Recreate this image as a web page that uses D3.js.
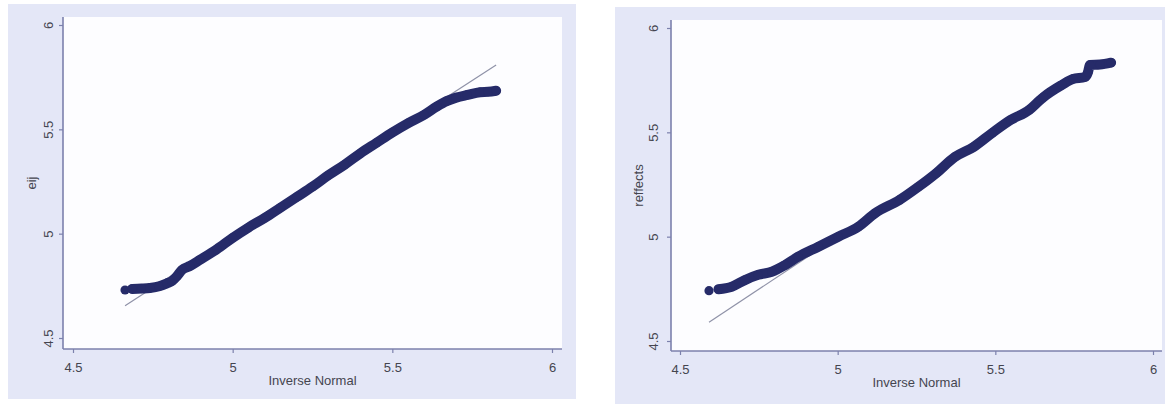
<!DOCTYPE html>
<html>
<head>
<meta charset="utf-8">
<script src="https://cdn.jsdelivr.net/npm/d3@7"></script>
<style>
  html, body { margin: 0; padding: 0; background: #ffffff; }
  svg { display: block; }
  text { font-family: "Liberation Sans", Arial, sans-serif; fill: #44454f; }
</style>
</head>
<body>
<svg id="chart" width="1165" height="404"></svg>
<script>
// ---- data ----
const xTicks = [4.5, 5, 5.5, 6];
const yTicks = [4.5, 5, 5.5, 6];
const xTickLabels = ["4.5", "5", "5.5", "6"];
const yTickLabels = ["4.5", "5", "5.5", "6"];
const xTitle = "Inverse Normal";
const leftYTitle = "eij";
const rightYTitle = "reffects";

// left panel: inverse normal (x) vs eij (y)
const leftX = [4.663, 4.685, 4.715, 4.741, 4.770, 4.794, 4.810, 4.826, 4.841, 4.866, 4.898,
  4.950, 5.000, 5.050, 5.100, 5.150, 5.200, 5.250, 5.300, 5.350, 5.400, 5.450, 5.500,
  5.550, 5.600, 5.640, 5.670, 5.700, 5.735, 5.775, 5.800, 5.825];
const leftY = [4.730, 4.735, 4.737, 4.740, 4.748, 4.762, 4.773, 4.797, 4.826, 4.845, 4.875,
  4.925, 4.980, 5.030, 5.075, 5.125, 5.175, 5.225, 5.280, 5.330, 5.385, 5.435, 5.485,
  5.530, 5.570, 5.610, 5.635, 5.652, 5.665, 5.678, 5.680, 5.685];
const leftRefX = [4.663, 5.825];
const leftRefY = [4.655, 5.808];

// right panel: inverse normal (x) vs reffects (y)
const rightX = [4.592, 4.622, 4.664, 4.706, 4.748, 4.791, 4.833, 4.875, 4.939, 5.002, 5.066,
  5.118, 5.196, 5.255, 5.313, 5.372, 5.431, 5.490, 5.548, 5.607, 5.642, 5.653, 5.711,
  5.746, 5.784, 5.794, 5.800, 5.832, 5.867];
const rightY = [4.741, 4.748, 4.760, 4.792, 4.817, 4.832, 4.864, 4.904, 4.952, 5.000, 5.048,
  5.112, 5.176, 5.238, 5.305, 5.382, 5.430, 5.497, 5.559, 5.607, 5.655, 5.669, 5.727,
  5.756, 5.765, 5.789, 5.823, 5.825, 5.834];
const rightRefX = [4.592, 5.800];
const rightRefY = [4.590, 5.800];

// ---- layout ----
const panels = [
  { outer: [8, 4, 568, 395], plot: [63, 17, 562, 349], xr: [73, 552], yr: [338, 25],
    ylabOff: 15, ytitleX: 31, xs: leftX, ys: leftY, rx: leftRefX, ry: leftRefY, ytitle: leftYTitle },
  { outer: [615, 7, 552, 397], plot: [671, 20, 1162, 351], xr: [680, 1153], yr: [341, 28],
    ylabOff: 18, ytitleX: 638, xs: rightX, ys: rightY, rx: rightRefX, ry: rightRefY, ytitle: rightYTitle }
];

const svg = d3.select("#chart");
const axisColor = "#7c81ad";
const dotColor = "#262b69";

panels.forEach(p => {
  const g = svg.append("g");
  g.append("rect").attr("x", p.outer[0]).attr("y", p.outer[1])
    .attr("width", p.outer[2]).attr("height", p.outer[3]).attr("fill", "#e4e7f7");
  const [x0, y0, x1, y1] = p.plot;
  g.append("rect").attr("x", x0).attr("y", y0).attr("width", x1 - x0).attr("height", y1 - y0)
    .attr("fill", "#fdfdff");

  const x = d3.scaleLinear().domain([4.5, 6]).range(p.xr);
  const y = d3.scaleLinear().domain([4.5, 6]).range(p.yr);

  // x axis
  const xa = g.append("g").attr("transform", `translate(0,${y1})`)
    .call(d3.axisBottom(x).tickValues(xTicks).tickFormat((d, i) => xTickLabels[i]).tickSize(4).tickSizeOuter(0));
  xa.select(".domain").remove();
  xa.selectAll(".tick line").attr("stroke", axisColor).attr("stroke-width", 1.2);
  xa.selectAll(".tick text").attr("y", 18).attr("dy", "0.35em")
    .style("font-size", "13px").attr("fill", "#44454f");
  g.append("line").attr("x1", x0).attr("x2", x1).attr("y1", y1).attr("y2", y1)
    .attr("stroke", axisColor).attr("stroke-width", 1.6);

  // y axis
  const ya = g.append("g").attr("transform", `translate(${x0},0)`)
    .call(d3.axisLeft(y).tickValues(yTicks).tickFormat((d, i) => yTickLabels[i]).tickSize(4).tickSizeOuter(0));
  ya.select(".domain").remove();
  ya.selectAll(".tick line").attr("stroke", axisColor).attr("stroke-width", 1.2);
  ya.selectAll(".tick text")
    .attr("x", 0).attr("dy", "0.35em")
    .attr("transform", `translate(${-p.ylabOff},0) rotate(-90)`)
    .attr("text-anchor", "middle")
    .style("font-size", "13px").attr("fill", "#44454f");
  g.append("line").attr("x1", x0).attr("x2", x0).attr("y1", y0).attr("y2", y1)
    .attr("stroke", axisColor).attr("stroke-width", 1.6);

  // titles
  g.append("text").attr("x", (x0 + x1) / 2).attr("y", y1 + 31).attr("dy", "0.35em")
    .attr("text-anchor", "middle").style("font-size", "13px").text(xTitle);
  g.append("text").attr("transform", `translate(${p.ytitleX},${(y0 + y1) / 2}) rotate(-90)`)
    .attr("dy", "0.35em").attr("text-anchor", "middle").style("font-size", "13px").text(p.ytitle);

  // reference line
  g.append("line").attr("x1", x(p.rx[0])).attr("y1", y(p.ry[0]))
    .attr("x2", x(p.rx[1])).attr("y2", y(p.ry[1]))
    .attr("stroke", "#8f92a8").attr("stroke-width", 1.2);

  // data band (dense points) + marker dots
  const pts = p.xs.map((v, i) => [v, p.ys[i]]);
  const line = d3.line().x(d => x(d[0])).y(d => y(d[1])).curve(d3.curveMonotoneX);
  g.append("path").datum(pts.slice(1)).attr("d", line)
    .attr("fill", "none").attr("stroke", dotColor).attr("stroke-width", 10)
    .attr("stroke-linecap", "round").attr("stroke-linejoin", "round");
  g.selectAll("circle.pt").data(pts).enter().append("circle").attr("class", "pt")
    .attr("cx", d => x(d[0])).attr("cy", d => y(d[1])).attr("r", 4.6).attr("fill", dotColor);
});
</script>
</body>
</html>
